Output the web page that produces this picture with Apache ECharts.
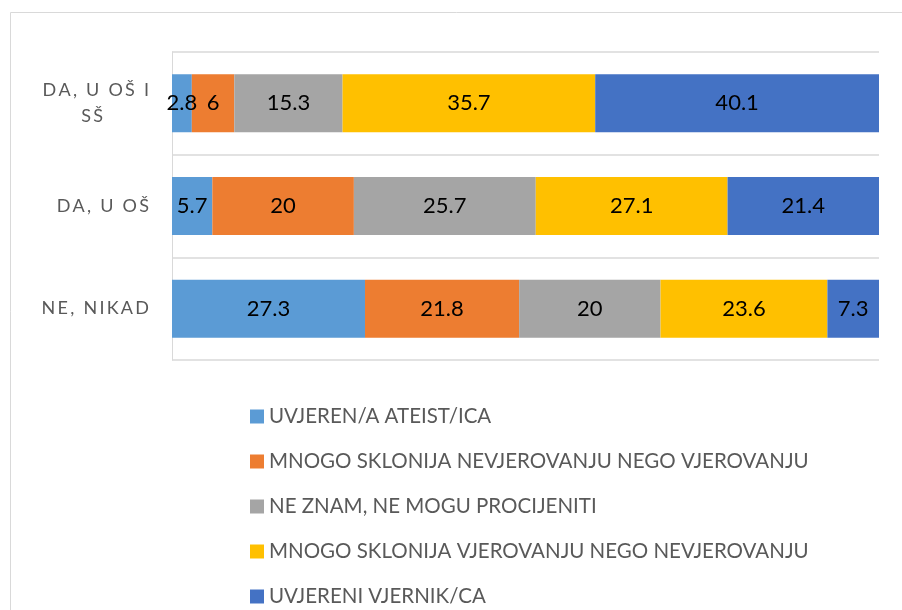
<!DOCTYPE html>
<html><head><meta charset="utf-8">
<script src="https://cdn.jsdelivr.net/npm/echarts/dist/echarts.min.js"></script>
<style>html,body{margin:0;padding:0;background:#fff}#c{width:902px;height:610px}</style>
</head><body><div id="c"></div>
<script>
const categories = ['DA, U OŠ I SŠ', 'DA, U OŠ', 'NE, NIKAD'];
const seriesNames = ['UVJEREN/A ATEIST/ICA', 'MNOGO SKLONIJA NEVJEROVANJU NEGO VJEROVANJU', 'NE ZNAM, NE MOGU PROCIJENITI', 'MNOGO SKLONIJA VJEROVANJU NEGO NEVJEROVANJU', 'UVJERENI VJERNIK/CA'];
const ateist = [2.8, 5.7, 27.3];
const nevjerovanju = [6, 20, 21.8];
const neZnam = [15.3, 25.7, 20];
const vjerovanju = [35.7, 27.1, 23.6];
const vjernik = [40.1, 21.4, 7.3];
const colors = ['#5B9BD5', '#ED7D31', '#A5A5A5', '#FFC000', '#4472C4'];

const FONT = 'Lato';
const allSeries = [ateist, nevjerovanju, neZnam, vjerovanju, vjernik];
const totals = categories.map((c, i) => allSeries.reduce((s, arr) => s + arr[i], 0));

function spaced(s) { return s.split('').join('\u2009'); }

const chart = echarts.init(document.getElementById('c'), null, { renderer: 'canvas' });
chart.setOption({
  animation: false,
  color: colors,
  textStyle: { fontFamily: FONT },
  graphic: [{
    type: 'rect', shape: { x: 10.5, y: 12.5, width: 1000, height: 1000 },
    style: { fill: 'none', stroke: '#d9d9d9', lineWidth: 1 }, silent: true
  }],
  grid: { left: 172, right: 23, top: 52, bottom: 250, containLabel: false, outerBoundsMode: 'none' },
  xAxis: { type: 'value', min: 0, max: 100, show: false },
  yAxis: {
    type: 'category', inverse: true, data: categories,
    axisLine: { show: true, lineStyle: { color: '#d9d9d9', width: 1 } },
    axisTick: { show: false },
    splitLine: { show: true, lineStyle: { color: '#d9d9d9', width: 1.5 } },
    axisLabel: {
      margin: 23,
      formatter: function (v) {
        if (v.length > 10) {
          const k = v.lastIndexOf(' ');
          return '{t|' + spaced(v.slice(0, k)) + '}\n{p|' + spaced(v.slice(k + 1)) + '}';
        }
        return '{t|' + spaced(v) + '}';
      },
      rich: {
        t: { fontSize: 18, color: '#595959', lineHeight: 26, fontFamily: FONT },
        p: { fontSize: 18, color: '#595959', lineHeight: 26, fontFamily: FONT, padding: [0, 46, 0, 0] }
      }
    }
  },
  legend: {
    orient: 'vertical', left: 250, top: 406, height: 220, padding: 0,
    itemWidth: 14, itemHeight: 14, itemGap: 24,
    icon: 'rect', selectedMode: false,
    textStyle: { fontSize: 20.5, color: '#595959', lineHeight: 20, fontFamily: FONT },
    data: seriesNames
  },
  series: allSeries.map((arr, si) => ({
    name: seriesNames[si], type: 'bar', stack: 'total', barWidth: 58,
    label: {
      show: true, position: 'inside', color: '#000', fontSize: 22, fontFamily: FONT,
      formatter: p => String(p.data.raw)
    },
    data: arr.map((v, i) => ({ value: v / totals[i] * 100, raw: v }))
  }))
});
</script></body></html>
